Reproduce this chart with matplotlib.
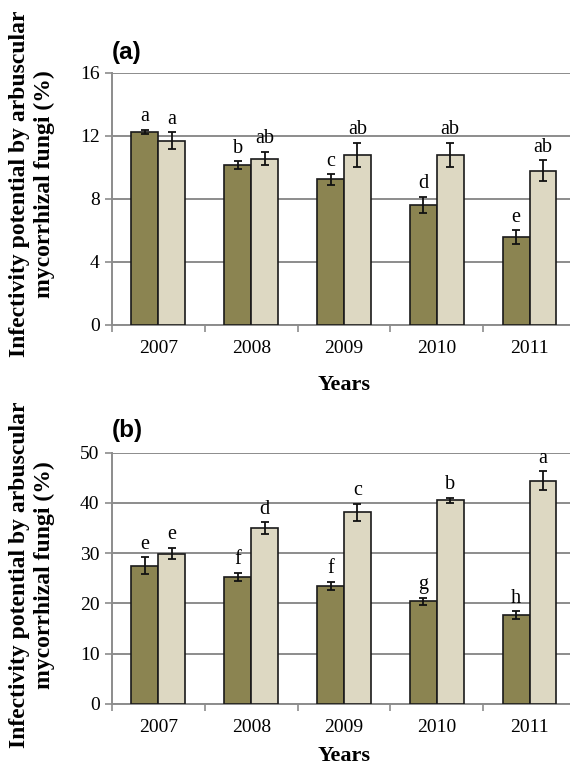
import matplotlib
matplotlib.use("Agg")
import matplotlib.pyplot as plt
import numpy as np

years = ["2007", "2008", "2009", "2010", "2011"]

# Panel (a)
a_dark = [12.26, 10.15, 9.24, 7.63, 5.58]
a_dark_err = [0.14, 0.26, 0.34, 0.50, 0.44]
a_light = [11.71, 10.57, 10.78, 10.78, 9.79]
a_light_err = [0.53, 0.42, 0.78, 0.78, 0.67]
a_dark_letters = ["a", "b", "c", "d", "e"]
a_light_letters = ["a", "ab", "ab", "ab", "ab"]
a_yticks = [0, 4, 8, 12, 16]

# Panel (b)
b_dark = [27.5, 25.3, 23.5, 20.4, 17.6]
b_dark_err = [1.66, 0.76, 0.80, 0.70, 0.80]
b_light = [29.9, 34.9, 38.1, 40.5, 44.4]
b_light_err = [1.16, 1.20, 1.70, 0.55, 1.90]
b_dark_letters = ["e", "f", "f", "g", "h"]
b_light_letters = ["e", "d", "c", "b", "a"]
b_yticks = [0, 10, 20, 30, 40, 50]

DARK = "#8b8451"
LIGHT = "#ddd8c2"
GRID = "#8c8c8c"
SERIF = "Liberation Serif"
YLABEL = "Infectivity potential by arbuscular\nmycorrhizal fungi (%)"

W, H = 570, 772
fig = plt.figure(figsize=(W / 100, H / 100), dpi=100)


def panel(rect, dark, dark_err, light, light_err, dl, ll, yticks, xlabel_pad):
    ax = fig.add_axes(rect)
    x = np.arange(len(years))
    w = 0.29
    ax.bar(x - w / 2, dark, w, color=DARK, edgecolor="#1a1a1a", linewidth=1.2, zorder=3)
    ax.bar(x + w / 2, light, w, color=LIGHT, edgecolor="#1a1a1a", linewidth=1.2, zorder=3)
    ax.errorbar(x - w / 2, dark, yerr=dark_err, fmt="none", ecolor="#111111",
                elinewidth=1.3, capsize=3, capthick=1.3, zorder=4)
    ax.errorbar(x + w / 2, light, yerr=light_err, fmt="none", ecolor="#111111",
                elinewidth=1.3, capsize=3, capthick=1.3, zorder=4)
    for xi, v, e, t in zip(x - w / 2, dark, dark_err, dl):
        ax.annotate(t, (xi, v + e), xytext=(0, 2.5), textcoords="offset points",
                    ha="center", va="bottom", fontsize=14.5, family=SERIF, zorder=5)
    for xi, v, e, t in zip(x + w / 2, light, light_err, ll):
        ax.annotate(t, (xi, v + e), xytext=(0, 2.5), textcoords="offset points",
                    ha="center", va="bottom", fontsize=14.5, family=SERIF, zorder=5)

    ax.set_xlim(-0.5, len(years) - 0.5)
    ax.set_ylim(yticks[0], yticks[-1])
    ax.set_yticks(yticks)
    ax.set_yticklabels([str(t) for t in yticks], family=SERIF, fontsize=14)
    ax.yaxis.grid(True, color=GRID, linewidth=1.4, zorder=0)
    ax.set_axisbelow(True)

    ax.set_xticks(x)
    ax.set_xticklabels(years, family=SERIF, fontsize=14)
    ax.set_xticks(np.arange(-0.5, len(years), 1.0), minor=True)
    ax.tick_params(axis="x", which="major", length=0, pad=11)
    ax.tick_params(axis="x", which="minor", length=5, width=1.2, color=GRID, direction="out")
    ax.tick_params(axis="y", length=5, width=1.2, color=GRID, direction="out", pad=4)

    for s in ("top", "right"):
        ax.spines[s].set_visible(False)
    for s in ("left", "bottom"):
        ax.spines[s].set_color(GRID)
        ax.spines[s].set_linewidth(1.4)

    ax.set_xlabel("Years", family=SERIF, fontsize=16, fontweight="bold",
                  labelpad=xlabel_pad)
    return ax


ax_a = panel([0.1965, 1 - 325 / H, 0.814, 252 / H], a_dark, a_dark_err, a_light,
             a_light_err, a_dark_letters, a_light_letters, a_yticks, 13)
ax_b = panel([0.1965, 1 - 704 / H, 0.814, 251.5 / H], b_dark, b_dark_err, b_light,
             b_light_err, b_dark_letters, b_light_letters, b_yticks, 7)

# panel tags
fig.text(127 / W, 1 - 52 / H, "(a)", family="Liberation Sans", fontsize=17.5,
         fontweight="bold", ha="center", va="center")
fig.text(127 / W, 1 - 431 / H, "(b)", family="Liberation Sans", fontsize=17.5,
         fontweight="bold", ha="center", va="center")

# y labels
for yc in (184, 575):
    fig.text(32 / W, 1 - yc / H, YLABEL, rotation=90, ha="center", va="center",
             multialignment="center", family=SERIF, fontsize=17, fontweight="bold",
             linespacing=1.28)

fig.savefig("out.png", dpi=100)
